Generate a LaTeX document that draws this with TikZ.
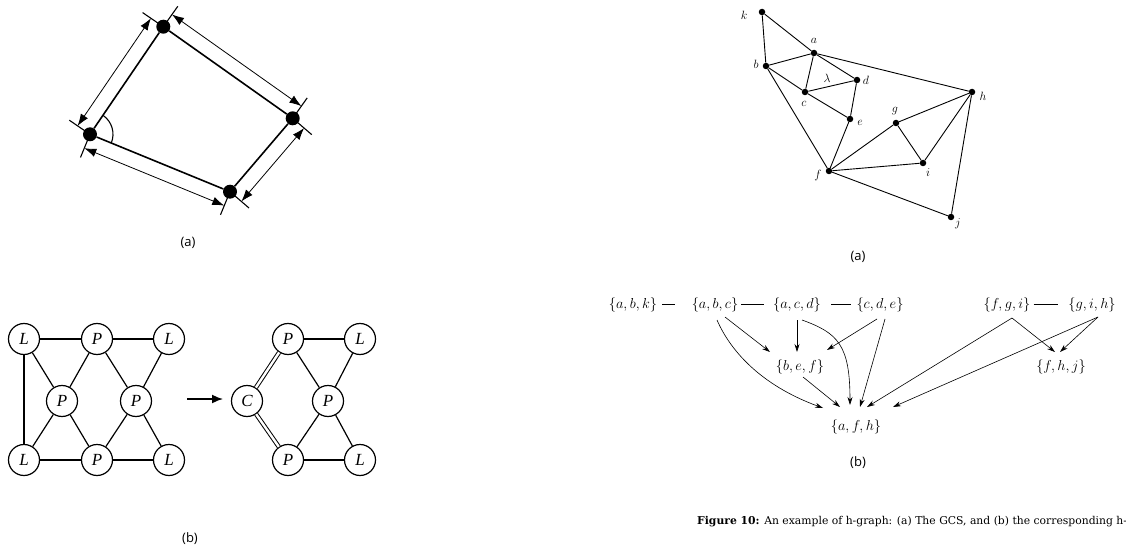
\documentclass[tikz,border=0pt]{standalone}
\usepackage{fontspec}
\newfontfamily\capfont{DejaVu Serif}
\newfontfamily\sansf{Open Sans}
\newfontfamily\timesf{Liberation Serif}
\usetikzlibrary{arrows.meta,calc}
\begin{document}
\begin{tikzpicture}[x=1pt,y=-1pt,
  bigdot/.style={circle,fill=black,inner sep=0pt,minimum size=14pt},
  edge/.style={line width=1.6pt},
  dimarr/.style={line width=0.8pt,{Latex[length=12pt,width=8.5pt]}-{Latex[length=12pt,width=8.5pt]}},
  extline/.style={line width=1.1pt},
  sublbl/.style={font=\sansf\fontsize{13}{15}\selectfont,inner sep=0pt},
  lnode/.style={circle,draw,line width=1.2pt,minimum size=31pt,inner sep=0pt,font=\timesf\itshape\fontsize{17}{17}\selectfont},
  ledge/.style={line width=1.2pt},
  dbl/.style={line width=1pt,double,double distance=2.4pt},
  gdot/.style={circle,fill=black,inner sep=0pt,minimum size=6.5pt},
  gedge/.style={line width=0.9pt},
  glbl/.style={font=\fontsize{13}{13}\selectfont,inner sep=0pt},
  hset/.style={inner sep=0pt,font=\fontsize{13.5}{14}\selectfont},
  harr/.style={line width=0.6pt,-{Stealth[length=8pt,width=5pt]}},
  hline/.style={line width=0.7pt},
]
\clip (0,0) rectangle (1126,553);
\fill[white] (0,0) rectangle (1126,553);

% ---------- left (a): quadrilateral ----------
\node[bigdot] (T) at (163.3,26.7) {};
\node[bigdot] (R) at (292.7,118.3) {};
\node[bigdot] (B) at (230,191.7) {};
\node[bigdot] (L) at (90,134.3) {};
\draw[edge] (L) -- (T);
\draw[edge] (T) -- (R);
\draw[edge] (R) -- (B);
\draw[edge] (B) -- (L);
% extension lines
\draw[extline] ($(T)+(3.3,2.3)$) -- ($(T)+(-20.7,-14.1)$);
\draw[extline] ($(L)+(3.3,2.3)$) -- ($(L)+(-20.7,-14.1)$);
\draw[extline] ($(T)+(-2.3,3.3)$) -- ($(T)+(14.5,-20.4)$);
\draw[extline] ($(R)+(-2.3,3.3)$) -- ($(R)+(14.5,-20.4)$);
\draw[extline] ($(R)+(-3,-2.6)$) -- ($(R)+(19,16.3)$);
\draw[extline] ($(B)+(-3,-2.6)$) -- ($(B)+(19,16.3)$);
\draw[extline] ($(B)+(1.5,-3.7)$) -- ($(B)+(-9.5,23.1)$);
\draw[extline] ($(L)+(1.5,-3.7)$) -- ($(L)+(-9.5,23.1)$);
% dimension arrows
\draw[dimarr] ($(L)+(-12.4,-8.4)$) -- ($(T)+(-12.4,-8.4)$);
\draw[dimarr] ($(T)+(8.7,-12.2)$) -- ($(R)+(8.7,-12.2)$);
\draw[dimarr] ($(R)+(11.4,9.75)$) -- ($(B)+(11.4,9.75)$);
\draw[dimarr] ($(B)+(-5.7,13.9)$) -- ($(L)+(-5.7,13.9)$);
% angle
\draw[line width=1.1pt] ($(L)+(-55.7:23)$) arc[start angle=-55.7,end angle=22.3,radius=23];
\node[sublbl] (capA) at (188,243) {(a)};

% ---------- left (b): graphs ----------
\node[lnode] (L1) at (24,339) {L};
\node[lnode] (P1) at (97,339) {P};
\node[lnode] (L2) at (169,339) {L};
\node[lnode] (M1) at (62,401) {P};
\node[lnode] (M2) at (136,401) {P};
\node[lnode] (L3) at (24,460) {L};
\node[lnode] (P3) at (97,460) {P};
\node[lnode] (L4) at (169,460) {L};
\draw[ledge] (L1) -- (P1);
\draw[ledge] (P1) -- (L2);
\draw[ledge] (L1) -- (L3);
\draw[ledge] (L1) -- (M1);
\draw[ledge] (P1) -- (M1);
\draw[ledge] (P1) -- (M2);
\draw[ledge] (L2) -- (M2);
\draw[ledge] (M1) -- (L3);
\draw[ledge] (M1) -- (P3);
\draw[ledge] (M2) -- (P3);
\draw[ledge] (M2) -- (L4);
\draw[ledge] (L3) -- (P3);
\draw[ledge] (P3) -- (L4);

\coordinate (arS) at (187,399);
\coordinate (arE) at (223,399);
\draw[line width=1.6pt,-{Latex[length=11pt,width=9pt]}] (arS) -- (arE);

\node[lnode] (Q1) at (288,339) {P};
\node[lnode] (Q2) at (360,339) {L};
\node[lnode] (QC) at (247,401) {C};
\node[lnode] (Q3) at (328,401) {P};
\node[lnode] (Q4) at (288,460) {P};
\node[lnode] (Q5) at (360,460) {L};
\draw[dbl] (Q1) -- (QC);
\draw[dbl] (QC) -- (Q4);
\draw[ledge] (Q1) -- (Q2);
\draw[ledge] (Q1) -- (Q3);
\draw[ledge] (Q2) -- (Q3);
\draw[ledge] (Q3) -- (Q4);
\draw[ledge] (Q3) -- (Q5);
\draw[ledge] (Q4) -- (Q5);
\node[sublbl] (capB) at (190,539) {(b)};

% ---------- right (a): GCS ----------
\node[gdot] (k) at (762,12) {};
\node[gdot] (a) at (814,53) {};
\node[gdot] (b) at (766,66) {};
\node[gdot] (d) at (857,80) {};
\node[gdot] (c) at (805,92) {};
\node[gdot] (e) at (850,119) {};
\node[gdot] (h) at (972,92) {};
\node[gdot] (g) at (896,123) {};
\node[gdot] (i) at (923,163) {};
\node[gdot] (f) at (829,171) {};
\node[gdot] (j) at (951,217) {};
\draw[gedge] (k) -- (b);
\draw[gedge] (k) -- (a);
\draw[gedge] (a) -- (b);
\draw[gedge] (a) -- (c);
\draw[gedge] (a) -- (d);
\draw[gedge] (a) -- (h);
\draw[gedge] (b) -- (c);
\draw[gedge] (b) -- (f);
\draw[gedge] (c) -- (d);
\draw[gedge] (c) -- (e);
\draw[gedge] (d) -- (e);
\draw[gedge] (e) -- (f);
\draw[gedge] (f) -- (g);
\draw[gedge] (f) -- (i);
\draw[gedge] (f) -- (j);
\draw[gedge] (g) -- (h);
\draw[gedge] (g) -- (i);
\draw[gedge] (i) -- (h);
\draw[gedge] (h) -- (j);
\node[glbl] (lk) at (744,15) {$k$};
\node[glbl] (la) at (814,41) {$a$};
\node[glbl] (lb) at (756,64) {$b$};
\node[glbl] (ld) at (866,80) {$d$};
\node[glbl] (lc) at (804,104) {$c$};
\node[glbl] (le) at (860,123) {$e$};
\node[glbl] (lh) at (983,96) {$h$};
\node[glbl] (lg) at (895,111) {$g$};
\node[glbl] (li) at (928,173) {$i$};
\node[glbl] (lf) at (818,176) {$f$};
\node[glbl] (lj) at (958,224) {$j$};
\node[glbl] (llam) at (827,78) {$\lambda$};
\node[sublbl] (capRA) at (858,257) {(a)};

% ---------- right (b): h-graph ----------
\node[hset] (abk) at (633,305) {$\{a,b,k\}$};
\node[hset] (abc) at (715,305) {$\{a,b,c\}$};
\node[hset] (acd) at (797,305) {$\{a,c,d\}$};
\node[hset] (cde) at (880,305) {$\{c,d,e\}$};
\node[hset] (fgi) at (1007,305) {$\{f,g,i\}$};
\node[hset] (gih) at (1092,305) {$\{g,i,h\}$};
\node[hset] (bef) at (800,367) {$\{b,e,f\}$};
\node[hset] (fhj) at (1061,367) {$\{f,h,j\}$};
\node[hset] (afh) at (856,427) {$\{a,f,h\}$};

\draw[hline] ($(abk.east)+(5,-1)$) -- ($(abc.west)+(-17,-1)$);
\draw[hline] ($(abc.east)+(3,-1)$) -- ($(acd.west)+(-9,-1)$);
\draw[hline] ($(acd.east)+(10,-1)$) -- ($(cde.west)+(-5,-1)$);
\draw[hline] ($(fgi.east)+(3,-1)$) -- ($(gih.west)+(-10,-1)$);

\draw[harr] ($(abc)+(2,15)$) .. controls (730,350) and (760,385) .. ($(afh)+(-33,-19)$);
\draw[harr] ($(abc)+(10,12)$) -- ($(bef)+(-30,-15)$);
\draw[harr] ($(acd)+(0,15)$) -- ($(bef)+(-3,-15)$);
\draw[harr] ($(acd)+(5,15)$) .. controls (838,333) and (850,345) .. ($(afh)+(-6,-22)$);
\draw[harr] ($(cde)+(-3,14)$) -- ($(bef)+(27,-17)$);
\draw[harr] ($(cde)+(5,14)$) -- ($(afh)+(4,-20)$);
\draw[harr] ($(bef)+(3,10)$) -- ($(afh)+(-16,-20)$);
\draw[harr] ($(fgi)+(5,13)$) -- ($(afh)+(11,-20)$);
\draw[harr] ($(fgi)+(5,13)$) -- ($(fhj)+(-6,-15)$);
\draw[harr] ($(gih)+(6,12)$) -- ($(fhj)+(-1,-15)$);
\draw[harr] ($(gih)+(6,12)$) -- ($(afh)+(37,-20)$);
\node[sublbl] (capRB) at (858,463) {(b)};

\node[anchor=base west,inner sep=0pt,font=\capfont\fontsize{10.8}{13}\selectfont] (caption) at (697,524)
  {\textbf{Figure 10:} An example of h-graph: (a) The GCS, and (b) the corresponding h-graph};
\end{tikzpicture}
\end{document}
